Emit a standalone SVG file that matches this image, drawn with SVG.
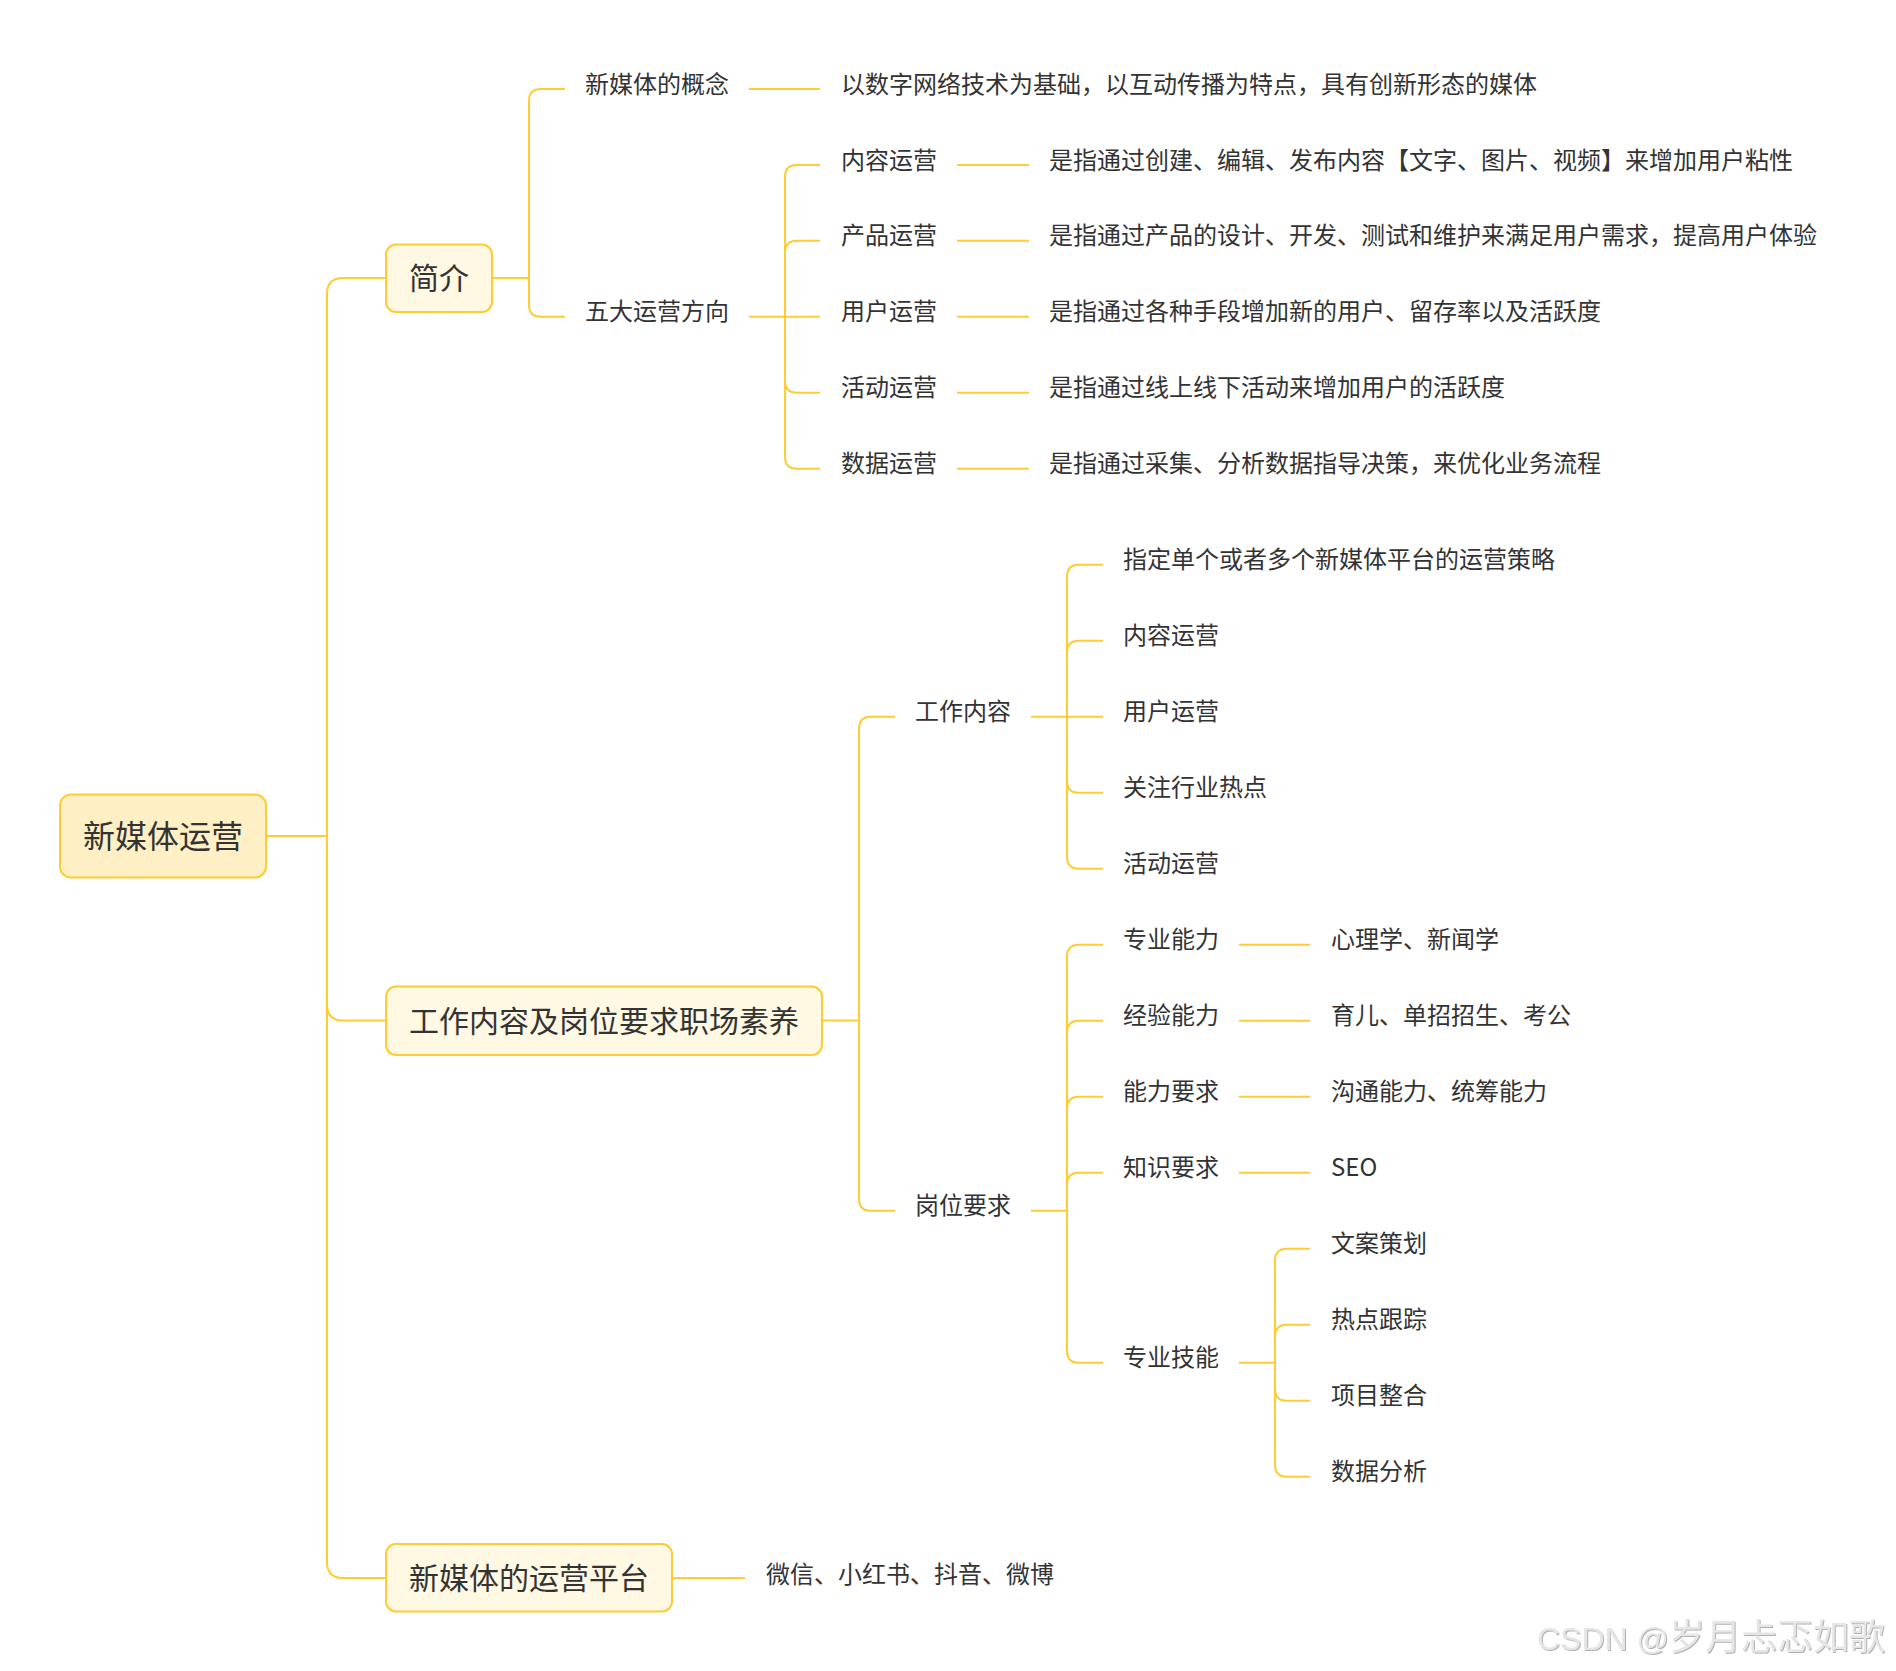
<svg xmlns="http://www.w3.org/2000/svg" width="1896" height="1671" viewBox="0 0 1896 1671">
<style>
.ln{fill:none;stroke:#FFCC33;stroke-width:2}
.box{stroke:#FFCC33;stroke-width:2}
.root{fill:#FFEFC4}
.l1{fill:#FFF8E3}
text{font-family:"Noto Sans CJK SC","Noto Sans",sans-serif;fill:#333333}
.t0{font-size:32px;text-anchor:middle}
.t1{font-size:30px;text-anchor:middle}
.t2{font-size:24px}
.wm{font-family:"Liberation Sans","Noto Sans CJK SC",sans-serif;fill:#e6e6e6}
</style>
<defs>
<filter id="emb" x="-5%" y="-20%" width="110%" height="140%">
<feDropShadow dx="1" dy="1" stdDeviation="0.6" flood-color="#b0b0b0"/>
</filter>
</defs>
<rect width="1896" height="1671" fill="#ffffff"/>
<g id="connectors">
<path class="ln" d="M266,836 H327"/>
<path class="ln" d="M327,836 V294 Q327,278 343,278 H386"/>
<path class="ln" d="M327,836 V1004.5 Q327,1020.5 343,1020.5 H386"/>
<path class="ln" d="M327,836 V1562 Q327,1578 343,1578 H386"/>
<path class="ln" d="M492,278 H529"/>
<path class="ln" d="M529,278 V101 Q529,89 541,89 H565"/>
<path class="ln" d="M529,278 V304.7 Q529,316.7 541,316.7 H565"/>
<path class="ln" d="M749,89 H820"/>
<path class="ln" d="M749,316.7 H785"/>
<path class="ln" d="M785,316.7 V177 Q785,165 797,165 H820"/>
<path class="ln" d="M785,316.7 V252.7 Q785,240.7 797,240.7 H820"/>
<path class="ln" d="M785,316.7 H820"/>
<path class="ln" d="M785,316.7 V380.7 Q785,392.7 797,392.7 H820"/>
<path class="ln" d="M785,316.7 V456.7 Q785,468.7 797,468.7 H820"/>
<path class="ln" d="M957,165 H1029"/>
<path class="ln" d="M957,240.7 H1029"/>
<path class="ln" d="M957,316.7 H1029"/>
<path class="ln" d="M957,392.7 H1029"/>
<path class="ln" d="M957,468.7 H1029"/>
<path class="ln" d="M822,1020.5 H859"/>
<path class="ln" d="M859,1020.5 V728.7 Q859,716.7 871,716.7 H895"/>
<path class="ln" d="M859,1020.5 V1198.8 Q859,1210.8 871,1210.8 H895"/>
<path class="ln" d="M1031,716.7 H1067"/>
<path class="ln" d="M1067,716.7 V576.7 Q1067,564.7 1079,564.7 H1103"/>
<path class="ln" d="M1067,716.7 V652.7 Q1067,640.7 1079,640.7 H1103"/>
<path class="ln" d="M1067,716.7 H1103"/>
<path class="ln" d="M1067,716.7 V780.7 Q1067,792.7 1079,792.7 H1103"/>
<path class="ln" d="M1067,716.7 V856.7 Q1067,868.7 1079,868.7 H1103"/>
<path class="ln" d="M1031,1210.8 H1067"/>
<path class="ln" d="M1067,1210.8 V956.8 Q1067,944.8 1079,944.8 H1103"/>
<path class="ln" d="M1067,1210.8 V1032.8 Q1067,1020.8 1079,1020.8 H1103"/>
<path class="ln" d="M1067,1210.8 V1108.8 Q1067,1096.8 1079,1096.8 H1103"/>
<path class="ln" d="M1067,1210.8 V1184.8 Q1067,1172.8 1079,1172.8 H1103"/>
<path class="ln" d="M1067,1210.8 V1350.8 Q1067,1362.8 1079,1362.8 H1103"/>
<path class="ln" d="M1239,944.8 H1310"/>
<path class="ln" d="M1239,1020.8 H1310"/>
<path class="ln" d="M1239,1096.8 H1310"/>
<path class="ln" d="M1239,1172.8 H1310"/>
<path class="ln" d="M1239,1362.8 H1275"/>
<path class="ln" d="M1275,1362.8 V1260.8 Q1275,1248.8 1287,1248.8 H1310"/>
<path class="ln" d="M1275,1362.8 V1336.8 Q1275,1324.8 1287,1324.8 H1310"/>
<path class="ln" d="M1275,1362.8 V1388.8 Q1275,1400.8 1287,1400.8 H1310"/>
<path class="ln" d="M1275,1362.8 V1464.8 Q1275,1476.8 1287,1476.8 H1310"/>
<path class="ln" d="M672,1578 H745"/>
</g>
<g id="root">
<rect class="box root" x="60" y="794.5" width="206" height="83" rx="11"/>
<text class="t0" x="163" y="848">新媒体运营</text>
</g>
<g id="n-jianjie">
<rect class="box l1" x="386" y="244.5" width="106" height="67.5" rx="10"/>
<text class="t1" x="439" y="289.4">简介</text>
</g>
<g id="n-work">
<rect class="box l1" x="386" y="986.5" width="436" height="68.5" rx="10"/>
<text class="t1" x="604" y="1031.9">工作内容及岗位要求职场素养</text>
</g>
<g id="n-platform">
<rect class="box l1" x="386" y="1544" width="286" height="67.5" rx="10"/>
<text class="t1" x="529" y="1589.4">新媒体的运营平台</text>
</g>
<g id="n-concept"><text class="t2" x="585" y="92.5">新媒体的概念</text></g>
<g id="n-concept-def"><text class="t2" x="841" y="92.5">以数字网络技术为基础，以互动传播为特点，具有创新形态的媒体</text></g>
<g id="n-five"><text class="t2" x="585" y="320.2">五大运营方向</text></g>
<g id="n-five-1"><text class="t2" x="841" y="168.5">内容运营</text></g>
<g id="n-five-1d"><text class="t2" x="1049" y="168.5">是指通过创建、编辑、发布内容【文字、图片、视频】来增加用户粘性</text></g>
<g id="n-five-2"><text class="t2" x="841" y="244.2">产品运营</text></g>
<g id="n-five-2d"><text class="t2" x="1049" y="244.2">是指通过产品的设计、开发、测试和维护来满足用户需求，提高用户体验</text></g>
<g id="n-five-3"><text class="t2" x="841" y="320.2">用户运营</text></g>
<g id="n-five-3d"><text class="t2" x="1049" y="320.2">是指通过各种手段增加新的用户、留存率以及活跃度</text></g>
<g id="n-five-4"><text class="t2" x="841" y="396.2">活动运营</text></g>
<g id="n-five-4d"><text class="t2" x="1049" y="396.2">是指通过线上线下活动来增加用户的活跃度</text></g>
<g id="n-five-5"><text class="t2" x="841" y="472.2">数据运营</text></g>
<g id="n-five-5d"><text class="t2" x="1049" y="472.2">是指通过采集、分析数据指导决策，来优化业务流程</text></g>
<g id="n-workcontent"><text class="t2" x="915" y="720.2">工作内容</text></g>
<g id="n-wc-1"><text class="t2" x="1123" y="568.2">指定单个或者多个新媒体平台的运营策略</text></g>
<g id="n-wc-2"><text class="t2" x="1123" y="644.2">内容运营</text></g>
<g id="n-wc-3"><text class="t2" x="1123" y="720.2">用户运营</text></g>
<g id="n-wc-4"><text class="t2" x="1123" y="796.2">关注行业热点</text></g>
<g id="n-wc-5"><text class="t2" x="1123" y="872.2">活动运营</text></g>
<g id="n-req"><text class="t2" x="915" y="1214.3">岗位要求</text></g>
<g id="n-req-1"><text class="t2" x="1123" y="948.3">专业能力</text></g>
<g id="n-req-1d"><text class="t2" x="1331" y="948.3">心理学、新闻学</text></g>
<g id="n-req-2"><text class="t2" x="1123" y="1024.3">经验能力</text></g>
<g id="n-req-2d"><text class="t2" x="1331" y="1024.3">育儿、单招招生、考公</text></g>
<g id="n-req-3"><text class="t2" x="1123" y="1100.3">能力要求</text></g>
<g id="n-req-3d"><text class="t2" x="1331" y="1100.3">沟通能力、统筹能力</text></g>
<g id="n-req-4"><text class="t2" x="1123" y="1176.3">知识要求</text></g>
<g id="n-req-4d"><text class="t2" x="1331" y="1176.3">SEO</text></g>
<g id="n-req-5"><text class="t2" x="1123" y="1366.3">专业技能</text></g>
<g id="n-skill-1"><text class="t2" x="1331" y="1252.3">文案策划</text></g>
<g id="n-skill-2"><text class="t2" x="1331" y="1328.3">热点跟踪</text></g>
<g id="n-skill-3"><text class="t2" x="1331" y="1404.3">项目整合</text></g>
<g id="n-skill-4"><text class="t2" x="1331" y="1480.3">数据分析</text></g>
<g id="n-platform-list"><text class="t2" x="766" y="1583">微信、小红书、抖音、微博</text></g>
<g id="watermark" filter="url(#emb)">
<text class="wm" x="1537" y="1650" font-size="32"><tspan>CSDN @</tspan><tspan font-family="'Noto Sans CJK SC',sans-serif" font-size="36">岁月忐忑如歌</tspan></text>
</g>
</svg>
